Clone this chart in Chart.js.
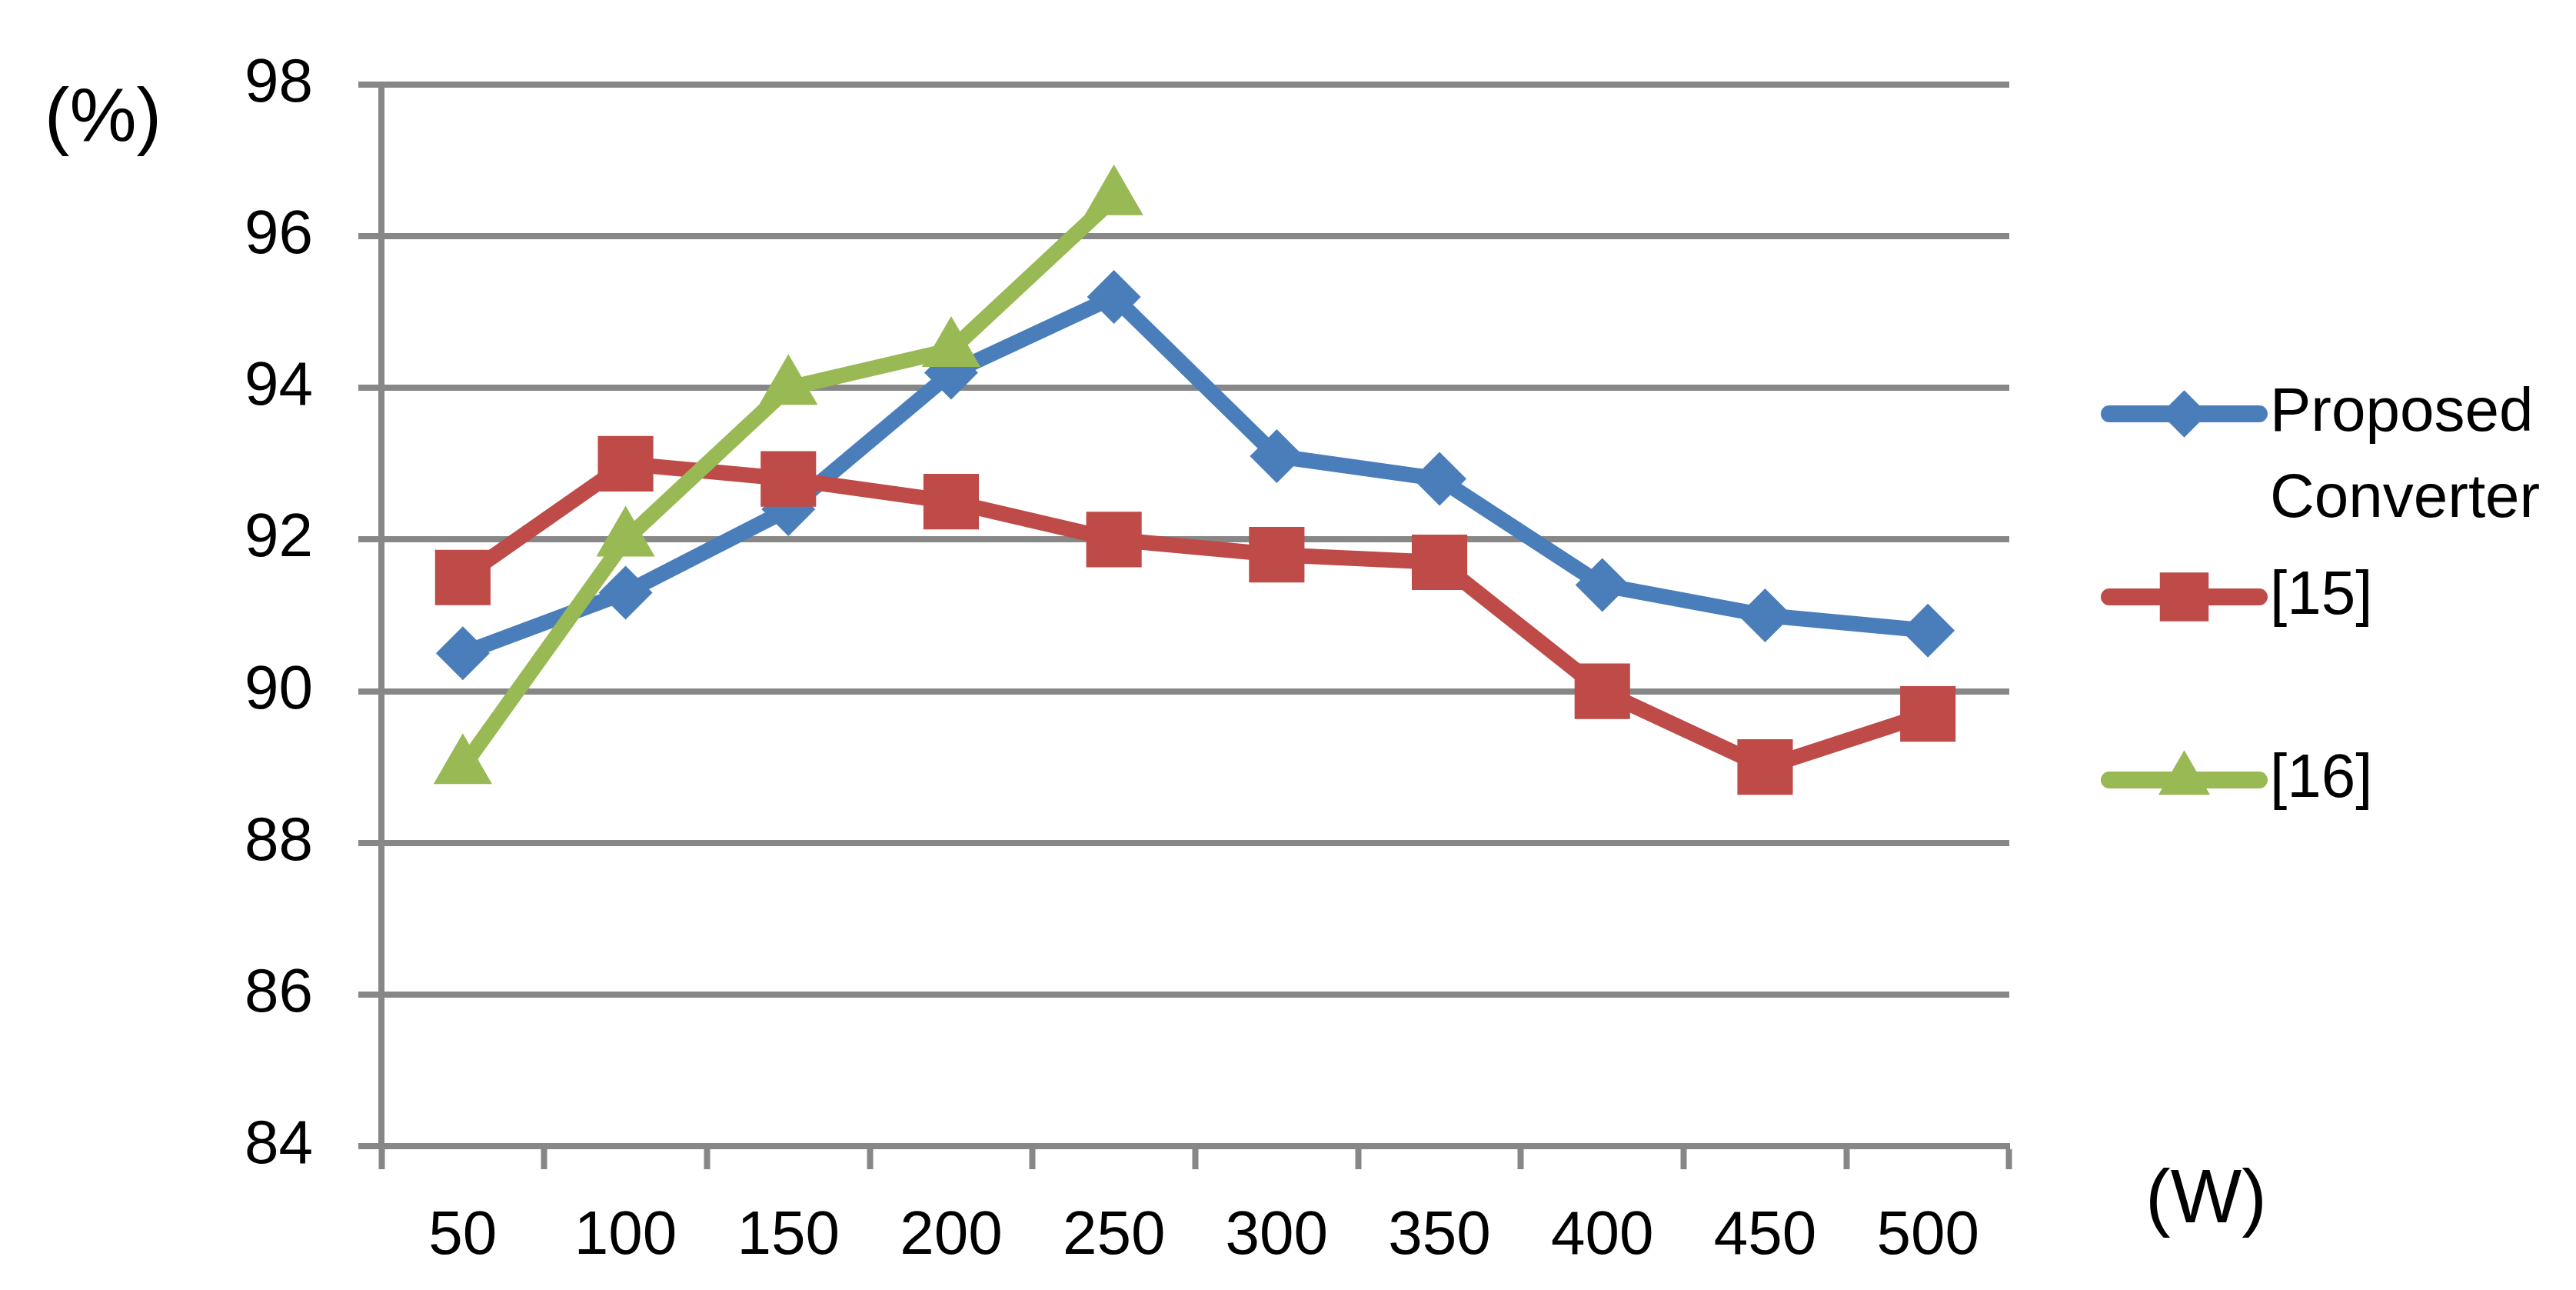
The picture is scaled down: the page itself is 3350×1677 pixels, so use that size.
<!DOCTYPE html>
<html>
<head>
<meta charset="utf-8">
<script src="https://cdn.jsdelivr.net/npm/chart.js@4.4.1/dist/chart.umd.min.js"></script>
<style>
  html, body { margin: 0; padding: 0; background: #fff; }
  #box { width: 3350px; height: 1677px; }
</style>
</head>
<body>
<div id="box"><canvas id="grafico"></canvas></div>
<script>
// Output power (W) on the x axis
const potencias = ['50', '100', '150', '200', '250', '300', '350', '400', '450', '500'];
// Series names shown in the legend
const nomes = ['Proposed Converter', '[15]', '[16]'];
// Efficiency (%)
const proposto = [90.5, 91.3, 92.4, 94.2, 95.2, 93.1, 92.8, 91.4, 91.0, 90.8];
const ref15 = [91.5, 93.0, 92.8, 92.5, 92.0, 91.8, 91.7, 90.0, 89.0, 89.7];
const ref16 = [89.0, 92.0, 94.0, 94.5, 96.5];
// y axis range and unit labels
const yMin = 84, yMax = 98, yPasso = 2;
const unidadeY = '(%)';
const unidadeX = '(W)';

const cores = ['#4a7ebb', '#be4b48', '#98b954'];
const marcadores = ['rectRot', 'rect', 'triangle'];
const raios = [35, 51, 44];
const cinza = '#878787';
const fonte = "'Liberation Sans', Arial, sans-serif";

// draws one marker shape for the side legend
function marcador(c, estilo, r, x, y) {
  c.beginPath();
  if (estilo === 'rectRot') {
    c.moveTo(x - r, y); c.lineTo(x, y - r); c.lineTo(x + r, y); c.lineTo(x, y + r);
  } else if (estilo === 'rect') {
    const s = r * Math.SQRT1_2;
    c.rect(x - s, y - s, 2 * s, 2 * s);
  } else {
    c.moveTo(x, y - r);
    c.lineTo(x + r * 0.866, y + r / 2);
    c.lineTo(x - r * 0.866, y + r / 2);
  }
  c.closePath();
  c.fill();
}

// legend on the right: line with marker in the middle, wrapped text
const legendaLateral = {
  id: 'legendaLateral',
  afterDraw(chart) {
    const c = chart.ctx, a = chart.chartArea;
    const x0 = a.right + 130, x1 = a.right + 325, xt = a.right + 339;
    const maxW = chart.width - xt - 8;
    c.save();
    c.font = '80px ' + fonte;
    c.textBaseline = 'middle';
    chart.data.datasets.forEach((ds, i) => {
      const y = a.top + 428 + i * 238;
      c.strokeStyle = ds.borderColor;
      c.lineWidth = 22;
      c.lineCap = 'round';
      c.beginPath(); c.moveTo(x0, y); c.lineTo(x1, y); c.stroke();
      c.fillStyle = ds.borderColor;
      marcador(c, ds.pointStyle, ds.pointRadius * 0.88, (x0 + x1) / 2, y);
      // simple word wrap
      const linhas = [];
      let atual = '';
      ds.label.split(' ').forEach(p => {
        const teste = atual ? atual + ' ' + p : p;
        if (atual && c.measureText(teste).width > maxW) { linhas.push(atual); atual = p; }
        else atual = teste;
      });
      linhas.push(atual);
      c.fillStyle = '#000';
      c.textAlign = 'left';
      linhas.forEach((t, k) => c.fillText(t, xt, y + k * 112));
    });
    c.restore();
  }
};

// unit labels "(%)" and "(W)"
const unidades = {
  id: 'unidades',
  afterDraw(chart) {
    const c = chart.ctx, a = chart.chartArea;
    c.save();
    c.font = '98px ' + fonte;
    c.fillStyle = '#000';
    c.textAlign = 'center';
    c.textBaseline = 'middle';
    c.fillText(unidadeY, a.left - 362, a.top + 46);
    c.fillText(unidadeX, a.right + 256, a.bottom + 72);
    c.restore();
  }
};

const series = [proposto, ref15, ref16];
const ctx = document.getElementById('grafico').getContext('2d');

const grafico = new Chart(ctx, {
  type: 'line',
  data: {
    labels: potencias,
    datasets: series.map((valores, i) => ({
      label: nomes[i],
      data: valores,
      borderColor: cores[i],
      backgroundColor: cores[i],
      borderWidth: 20,
      borderJoinStyle: 'round',
      tension: 0,
      pointStyle: marcadores[i],
      pointRadius: raios[i],
      pointBorderWidth: 0,
      pointBackgroundColor: cores[i],
      order: 3 - i // later series on top, like the original
    }))
  },
  options: {
    responsive: true,
    maintainAspectRatio: false,
    animation: false,
    devicePixelRatio: 1,
    layout: { padding: { top: 110, right: 737, left: 0, bottom: 0 } },
    plugins: {
      legend: { display: false },
      tooltip: { enabled: false }
    },
    scales: {
      x: {
        offset: true,
        grid: { offset: true, drawOnChartArea: false, drawTicks: true, tickLength: 30, tickWidth: 8, tickColor: cinza },
        border: { display: true, color: cinza, width: 8 },
        ticks: { color: '#000', font: { family: fonte, size: 80 }, padding: 40, maxRotation: 0, autoSkip: false },
        afterFit: s => { s.height = 187; }
      },
      y: {
        min: yMin,
        max: yMax,
        ticks: { stepSize: yPasso, color: '#000', font: { family: fonte, size: 80 }, padding: 59 },
        grid: { color: cinza, lineWidth: 8, tickLength: 30, tickColor: cinza, tickWidth: 8 },
        border: { display: true, color: cinza, width: 8 },
        afterFit: s => { s.width = 496; }
      }
    }
  },
  plugins: [legendaLateral, unidades]
});
</script>
</body>
</html>
